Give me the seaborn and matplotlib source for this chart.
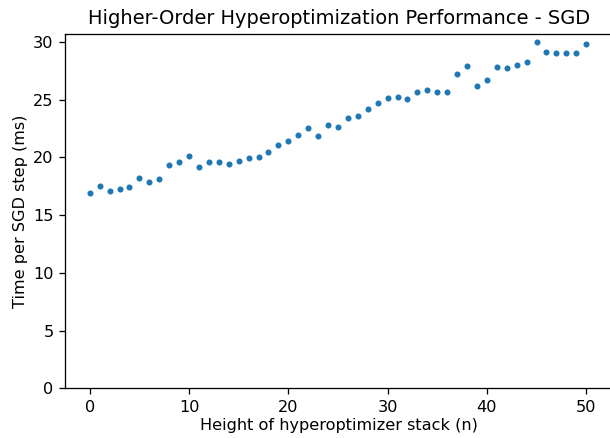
import numpy as np
import pandas as pd
import matplotlib
matplotlib.use("Agg")
import matplotlib.pyplot as plt
import seaborn as sns

# Altura de la pila de hiperoptimizadores y tiempo por paso (ms)
n = list(range(51))
tiempo_ms = [16.92, 17.53, 17.06, 17.23, 17.46, 18.21, 17.87, 18.10, 19.34, 19.60,
             20.12, 19.17, 19.60, 19.60, 19.43, 19.66, 19.95, 20.03, 20.44, 21.07,
             21.45, 21.97, 22.57, 21.82, 22.80, 22.63, 23.41, 23.61, 24.19, 24.76,
             25.17, 25.28, 25.06, 25.69, 25.86, 25.66, 25.66, 27.22, 27.91, 26.23,
             26.73, 27.88, 27.79, 28.03, 28.23, 30.04, 29.12, 29.01, 29.01, 29.07,
             29.82]

df = pd.DataFrame({"n": n, "tiempo": tiempo_ms})

# La figura original es algo más ancha: el eje derecho queda fuera del recorte
escala = 1.16
plt.rcParams.update({
    "xtick.major.size": 3.5 * escala, "ytick.major.size": 3.5 * escala,
    "xtick.major.width": 0.8 * escala, "ytick.major.width": 0.8 * escala,
    "xtick.major.pad": 3.5 * escala, "ytick.major.pad": 3.5 * escala,
    "axes.linewidth": 0.8 * escala,
})

fig = plt.figure(figsize=(6.1, 4.38), dpi=100)
ax = fig.add_axes([64.9 / 610, 49.7 / 438, 548.1 / 610, 354.3 / 438])

sns.scatterplot(x="n", y="tiempo", data=df, ax=ax, color="#1f77b4",
                s=19, linewidth=0)

ax.set_xlim(-2.5, 52.7)
ax.set_ylim(bottom=0)
ax.tick_params(labelsize=10 * escala)
ax.set_title("Higher-Order Hyperoptimization Performance - SGD",
             fontsize=12 * escala, pad=7.5)
ax.set_xlabel("Height of hyperoptimizer stack (n)", fontsize=10 * escala, labelpad=2.5)
ax.set_ylabel("Time per SGD step (ms)", fontsize=10 * escala)

fig.savefig("out.png", dpi=100)
